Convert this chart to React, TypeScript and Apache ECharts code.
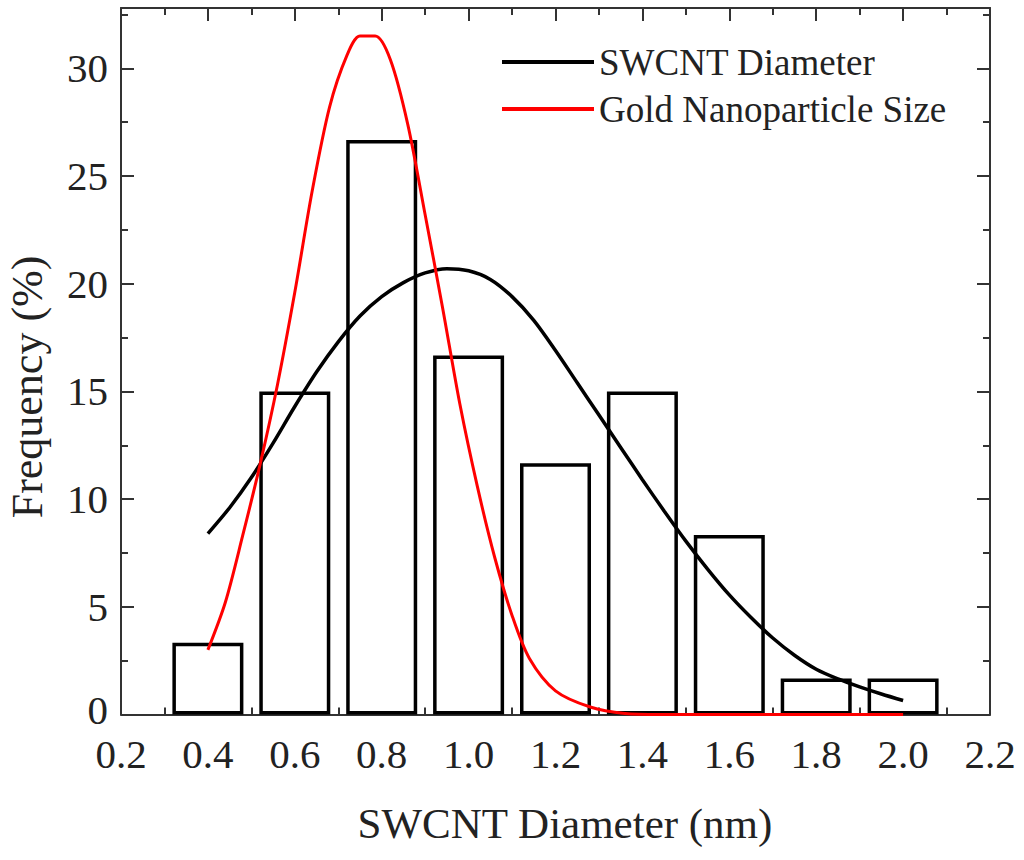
import React, { useEffect, useRef } from 'react';
import * as echarts from 'echarts';

// histogram bins (bin centre, nm) and frequency (%)
const binCenters = [0.4, 0.6, 0.8, 1.0, 1.2, 1.4, 1.6, 1.8, 2.0];
const binFrequency = [3.33, 15.0, 26.67, 16.67, 11.67, 15.0, 8.33, 1.67, 1.67];

// fitted distribution of SWCNT diameter (black curve)
const swcntFitX = [
  0.40, 0.45, 0.50, 0.55, 0.60, 0.65, 0.70, 0.75, 0.80, 0.85, 0.90, 0.95, 1.00, 1.05, 1.10, 1.15, 1.20,
  1.25, 1.30, 1.35, 1.40, 1.45, 1.50, 1.55, 1.60, 1.65, 1.70, 1.75, 1.80, 1.85, 1.90, 1.95, 2.00,
];
const swcntFitY = [
  8.4, 9.6, 11.0, 12.6, 14.3, 15.9, 17.3, 18.5, 19.4, 20.05, 20.5, 20.7, 20.6, 20.2, 19.4, 18.3, 16.9,
  15.4, 13.9, 12.4, 10.9, 9.45, 8.05, 6.75, 5.55, 4.5, 3.55, 2.75, 2.1, 1.65, 1.28, 0.95, 0.65,
];

// fitted distribution of gold nanoparticle size (red curve)
const goldFitX = [0.40, 0.44, 0.48, 0.52, 0.56, 0.60, 0.64, 0.68, 0.72, 0.75, 0.785, 0.82, 0.86, 0.90, 0.94, 0.98, 1.02, 1.06, 1.10, 1.14, 1.20, 1.28, 1.36, 1.44, 1.60, 1.80, 2.00];
const goldFitY = [3.0, 5.2, 8.3, 11.6, 15.3, 19.6, 24.3, 28.2, 30.6, 31.5, 31.5, 30.4, 27.4, 23.2, 18.9, 14.4, 10.6, 7.3, 4.6, 2.6, 1.1, 0.35, 0.05, 0, 0, 0, 0];

const xMin = 0.2;
const xMax = 2.2;
const xStep = 0.2;
const yMin = 0;
const yMax = 32.8;
const yStep = 5;

const serif = '"Liberation Serif", "Times New Roman", serif';

const App = () => {
  const chartRef = useRef<HTMLDivElement>(null);

  useEffect(() => {
    document.body.style.margin = '0';
    const chart = echarts.init(chartRef.current, null, { renderer: 'svg' });

    const axisLine = { color: '#333', width: 2 };

    const xBase = {
      type: 'value',
      min: xMin,
      max: xMax,
      interval: xStep,
      axisLine: { show: true, onZero: false, lineStyle: axisLine },
      axisTick: { show: true, inside: true, length: 13, lineStyle: axisLine },
      minorTick: { show: true, splitNumber: 2, length: 7, lineStyle: axisLine },
      splitLine: { show: false },
    };

    const yBase = {
      type: 'value',
      min: yMin,
      max: yMax,
      interval: yStep,
      axisLine: { show: true, onZero: false, lineStyle: axisLine },
      axisTick: { show: true, inside: true, length: 13, lineStyle: axisLine },
      minorTick: { show: true, splitNumber: 2, length: 7, lineStyle: axisLine },
      splitLine: { show: false },
    };

    const option = {
      animation: false,
      backgroundColor: '#fff',
      grid: { left: 121, right: 34, top: 8, bottom: 145.5, containLabel: false },
      legend: {
        data: ['SWCNT Diameter', 'Gold Nanoparticle Size'],
        orient: 'vertical',
        left: 497,
        top: 38.5,
        icon: 'rect',
        itemWidth: 92,
        itemHeight: 4,
        itemGap: 10,
        textStyle: { fontFamily: serif, fontSize: 37, color: '#222' },
      },
      xAxis: [
        {
          ...xBase,
          position: 'bottom',
          axisLabel: {
            show: true,
            margin: 24,
            lineHeight: 30,
            fontFamily: serif,
            fontSize: 41,
            color: '#222',
            formatter: (v: number) => v.toFixed(1),
          },
        },
        { ...xBase, position: 'top', axisLabel: { show: false } },
      ],
      yAxis: [
        {
          ...yBase,
          position: 'left',
          axisLabel: {
            show: true,
            margin: 13,
            lineHeight: 30,
            fontFamily: serif,
            fontSize: 41,
            color: '#222',
            formatter: (v: number) => {
              if (Math.abs(v % yStep) > 1e-6) return '';
              return v === 0 ? '{zero|0}' : String(v);
            },
            rich: { zero: { padding: [0, 0, 10, 0] } },
          },
        },
        { ...yBase, position: 'right', axisLabel: { show: false } },
      ],
      graphic: [
        {
          type: 'text',
          x: 565,
          y: 823.5,
          style: {
            text: 'SWCNT Diameter (nm)',
            font: `43px ${serif}`,
            fill: '#222',
            textAlign: 'center',
            textVerticalAlign: 'middle',
          },
        },
        {
          type: 'text',
          x: 27,
          y: 387,
          rotation: Math.PI / 2,
          style: {
            text: 'Frequency (%)',
            font: `44px ${serif}`,
            fill: '#222',
            textAlign: 'center',
            textVerticalAlign: 'middle',
          },
        },
      ],
      series: [
        {
          name: 'Histogram',
          type: 'bar',
          data: binCenters.map((x, i) => [x, binFrequency[i]]),
          barWidth: 71,
          itemStyle: { color: '#fff', borderColor: '#000', borderWidth: 3.5 },
        },
        {
          name: 'SWCNT Diameter',
          type: 'line',
          data: swcntFitX.map((x, i) => [x, swcntFitY[i]]),
          smooth: 0.3,
          showSymbol: false,
          lineStyle: { color: '#000', width: 3.5 },
          itemStyle: { color: '#000' },
        },
        {
          name: 'Gold Nanoparticle Size',
          type: 'line',
          data: goldFitX.map((x, i) => [x, goldFitY[i]]),
          smooth: 0.3,
          showSymbol: false,
          lineStyle: { color: '#ff0000', width: 3 },
          itemStyle: { color: '#ff0000' },
        },
      ],
    };

    chart.setOption(option);

    return () => {
      chart.dispose();
    };
  }, []);

  return <div ref={chartRef} style={{ width: '1024px', height: '860px' }} />;
};

export default App;
